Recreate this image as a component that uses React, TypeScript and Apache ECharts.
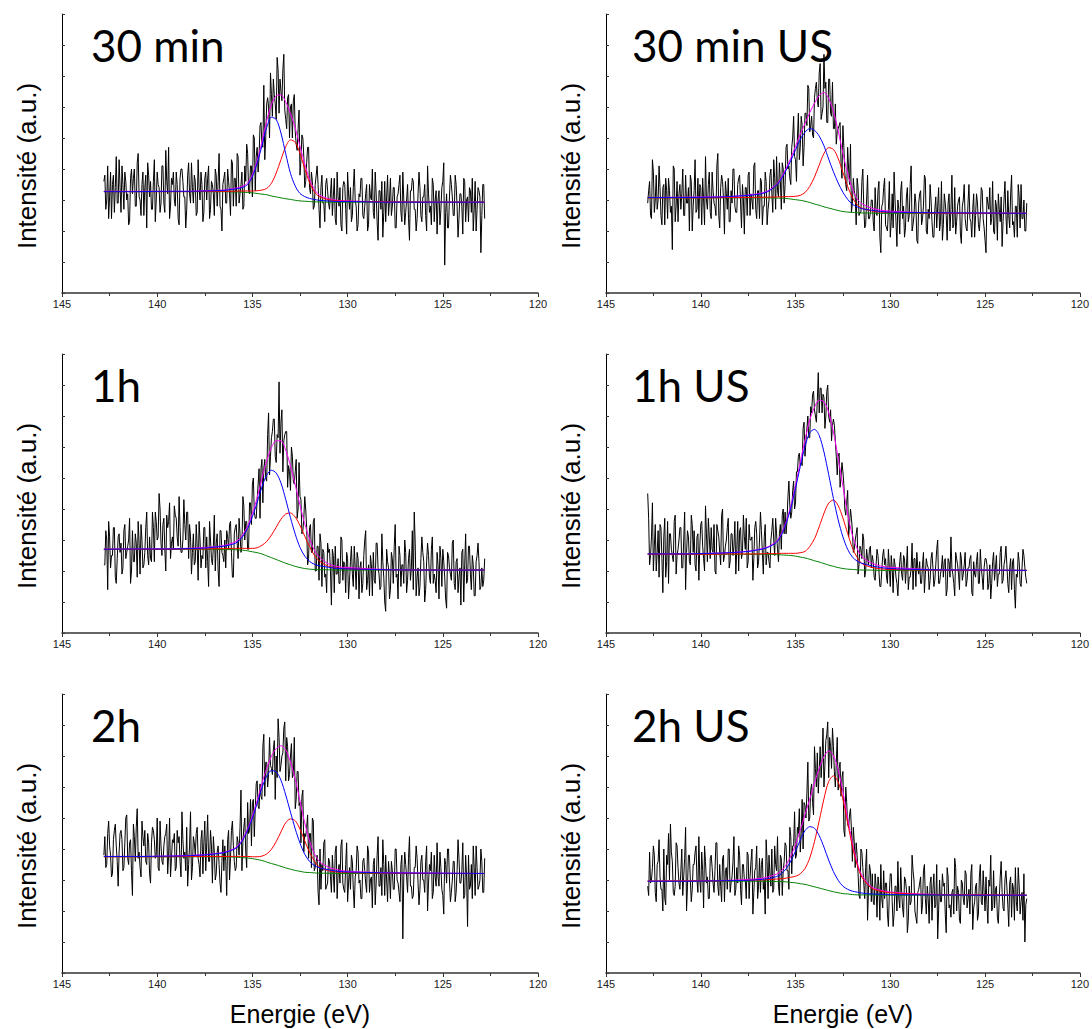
import React, { useEffect, useRef } from "react";
import * as echarts from "echarts";

// ---------- DATA ----------
const PANEL_TITLES = ["30 min", "30 min US", "1h", "1h US", "2h", "2h US"];
const Y_LABEL = "Intensité (a.u.)";
const X_LABEL = "Energie (eV)";
const X_MIN = 120;
const X_MAX = 145;
const X_INTERVAL = 5;
const Y_MIN = 0;
const Y_MAX = 9;

// raw spectra: 142.8 eV down to 122.8 eV every 0.05 eV,
// stored as the points on the 0.1 grid (RAW_*) and the points half-way between them (RAW_*_ODD)
const ENERGY_START = 142.8;
const ENERGY_STEP = 0.1;
const ODD_OFFSET = 0.05;

// energies at which the fitted curves are tabulated
const FIT_ENERGY = [142.8, 141, 139.5, 138.5, 137.5, 137, 136.5, 136, 135.75, 135.5, 135.25, 135, 134.75, 134.5, 134.25, 134, 133.75, 133.5, 133.25, 133, 132.75, 132.5, 132.25, 132, 131.75, 131.5, 131, 130.5, 130, 128, 125, 122.8];

// ----- 30 min -----
const RAW_30MIN = [
  3.6,2.7,4.1,3.1,2.4,3.8,3.4,2.9,4.3,2.6,3.5,3.9,3.0,2.2,3.7,3.2,4.0,2.8,4.5,3.0,3.5,2.5,3.8,4.2,3.1,2.7,3.6,2.3,3.9,3.4,2.9,4.1,2.6,3.6,4.7,2.8,3.5,3.0,3.9,2.4,3.7,4.0,3.1,2.1,3.8,3.2,4.2,2.9,3.6,2.6,3.4,3.9,2.3,3.7,3.0,4.1,2.7,3.5,2.5,3.8,3.6,2.8,2.0,3.7,
  2.9,4.0,3.2,4.3,2.8,3.7,4.5,2.9,3.5,2.7,4.1,4.8,3.3,4.1,3.1,5.0,4.4,3.9,5.4,4.8,6.7,5.0,6.3,5.0,6.4,6.9,6.1,7.6,5.8,6.5,7.2,5.9,5.3,6.4,6.0,5.0,6.4,4.8,5.3,3.8,5.1,4.4,3.6,4.7,3.4,3.9,2.7,3.5,4.1,2.7,3.4,2.9,2.3,3.7,2.9,
  3.2,2.5,3.7,2.2,3.1,3.4,2.0,3.6,2.7,3.9,2.7,2.3,3.4,3.0,2.0,3.2,3.7,2.5,2.8,3.5,2.2,3.1,4.0,2.4,3.2,1.7,3.3,3.6,2.6,2.3,3.8,3.0,2.5,3.4,2.1,3.1,3.5,2.6,3.9,2.2,3.0,2.4,3.3,3.7,2.7,2.0,3.2,3.4,2.3,3.1,2.5,4.1,2.6,2.2,3.5,3.0,1.9,3.3,2.7,3.6,0.9,3.2,2.1,3.8,3.1,2.5,3.5,1.8,3.2,2.8,3.7,2.3,3.1,3.4,2.6,2.0,3.6,2.7,3.3,1.3,3.5,2.4
];
const RAW_30MIN_ODD = [
  3.8,3.0,2.4,3.9,3.5,2.6,4.4,2.9,3.4,4.1,2.7,3.6,3.2,2.3,4.0,3.7,2.8,4.2,3.1,2.5,3.9,3.4,2.1,3.8,3.6,2.7,4.3,3.0,3.5,2.6,4.1,2.9,4.6,3.2,2.4,3.7,3.9,2.8,3.5,2.2,4.0,3.6,3.1,2.7,4.2,2.9,3.4,3.8,2.5,4.3,3.0,3.5,2.6,3.9,3.7,2.4,3.6,3.2,4.0,2.8,4.5,2.7,3.5,
  3.9,2.9,3.6,2.5,4.2,3.7,2.8,4.4,3.2,3.9,2.8,3.6,4.5,3.2,4.1,5.1,3.3,4.7,4.4,5.5,4.7,4.3,6.1,6.0,7.1,5.7,6.4,5.6,7.2,6.9,6.2,7.7,5.6,6.3,5.0,6.1,6.2,5.2,4.6,5.9,4.3,5.0,3.4,4.2,4.7,3.2,3.6,2.8,3.8,3.5,2.1,3.8,2.9,3.5,3.3,
  2.7,3.7,3.1,2.4,3.9,2.8,2.2,3.4,3.5,1.9,3.2,3.4,2.5,4.0,2.8,2.2,3.1,3.7,2.4,3.2,2.0,3.5,3.0,2.6,3.9,2.3,3.3,2.7,1.8,3.6,3.1,2.5,3.7,2.8,3.4,2.1,3.2,3.8,2.3,3.0,2.6,3.5,1.7,3.3,3.6,2.7,2.4,3.9,2.5,3.1,3.5,2.0,3.2,2.8,3.7,2.3,3.3,3.0,2.2,3.4,4.2,2.6,2.1,3.1,3.5,2.5,3.8,2.8,2.4,3.2,1.9,3.6,3.0,2.3,3.3,3.7,2.7,2.0,3.4,3.1,2.5,3.5
];
const BG_30MIN = [3.27,3.27,3.27,3.27,3.27,3.27,3.27,3.26,3.26,3.25,3.24,3.23,3.21,3.19,3.17,3.13,3.10,3.07,3.04,3.02,2.99,2.97,2.96,2.95,2.94,2.94,2.93,2.93,2.93,2.93,2.93,2.93];
const BLUE_30MIN = [3.27,3.27,3.28,3.28,3.29,3.30,3.31,3.35,3.37,3.41,3.50,3.76,4.19,4.75,5.34,5.67,5.60,5.16,4.49,3.86,3.45,3.21,3.11,3.05,3.02,2.99,2.97,2.95,2.95,2.93,2.93,2.93];
const RED_30MIN = [3.27,3.27,3.27,3.27,3.28,3.28,3.28,3.28,3.29,3.29,3.29,3.29,3.30,3.32,3.37,3.54,3.87,4.30,4.72,4.94,4.86,4.50,4.01,3.56,3.27,3.11,3.01,2.97,2.96,2.94,2.93,2.93];
const ENV_30MIN = [3.28,3.28,3.28,3.28,3.30,3.31,3.32,3.37,3.40,3.45,3.55,3.82,4.27,4.88,5.55,6.08,6.36,6.39,6.16,5.79,5.32,4.73,4.16,3.67,3.35,3.17,3.04,2.99,2.97,2.94,2.93,2.93];

// ----- 30 min US -----
const RAW_30MIN_US = [
  2.9,3.6,2.4,3.9,3.0,2.7,4.1,2.5,3.4,2.2,3.3,3.7,2.6,1.4,4.0,2.8,2.3,3.5,3.2,2.5,3.8,2.9,2.0,3.6,2.8,4.3,2.7,2.4,3.4,3.7,2.2,3.0,3.5,2.6,3.9,2.9,2.5,4.5,2.1,3.8,3.0,3.6,2.7,2.3,3.3,4.0,2.8,2.6,3.7,2.9,3.5,1.9,3.4,3.8,2.5,3.0,4.1,2.7,3.3,2.4,3.6,2.8,3.9,2.2,
  3.0,4.0,2.6,3.7,4.4,3.1,3.6,4.2,2.9,4.7,4.0,3.7,4.7,5.7,4.3,5.0,4.3,5.7,4.1,5.8,5.4,6.6,5.4,5.1,6.3,6.8,6.0,7.4,5.8,7.7,6.8,5.5,6.9,5.7,5.3,6.1,5.2,5.4,4.2,5.4,3.9,3.3,4.0,4.8,2.9,3.3,2.2,3.4,2.6,3.6,2.8,2.2,3.8,2.4,3.0,
  2.3,3.4,2.5,3.6,1.3,2.9,3.7,2.1,2.7,1.8,3.2,3.9,2.3,3.0,1.9,3.6,2.8,2.1,3.4,2.5,4.1,2.2,3.2,1.7,2.9,3.3,2.4,3.8,2.0,2.7,3.5,2.3,1.8,3.1,2.8,2.0,3.6,2.2,2.9,1.7,3.2,2.7,2.1,3.4,2.3,3.0,1.9,2.8,3.5,2.1,2.9,2.4,1.8,3.2,2.5,2.9,2.0,3.4,2.4,1.7,3.1,2.7,2.2,3.6,1.9,2.8,3.2,2.3,1.5,3.0,2.5,3.3,2.1,3.8,2.3,2.8,1.8,3.1,3.5,2.4,2.0,2.9
];
const RAW_30MIN_US_ODD = [
  3.3,2.5,4.3,2.6,3.8,3.0,3.4,2.2,3.5,3.7,2.4,3.3,2.8,4.1,2.3,3.6,3.2,2.7,4.0,2.5,2.9,3.4,3.8,2.0,3.3,2.6,3.7,3.5,2.2,3.0,4.4,2.7,3.9,2.4,3.3,2.8,4.1,2.5,3.4,3.6,1.9,3.2,3.7,2.3,2.9,4.0,2.6,3.5,3.8,2.1,3.0,3.4,2.5,3.9,3.2,2.7,4.2,2.4,3.3,3.7,2.2,2.8,3.6,
  2.7,3.8,3.2,4.3,2.7,3.3,4.2,2.7,4.0,3.5,4.8,4.1,3.5,5.0,4.4,3.6,5.8,4.7,5.4,4.7,5.8,6.7,5.2,5.7,5.0,6.6,6.2,7.1,5.6,6.0,6.6,5.5,6.9,5.8,6.8,5.3,4.8,5.3,5.5,3.7,4.7,3.5,4.7,3.5,2.6,3.7,3.1,3.7,2.5,2.6,4.0,2.1,3.0,2.4,2.6,
  3.0,2.0,2.6,3.3,1.8,2.8,3.4,2.2,2.0,3.6,2.3,2.1,3.0,1.5,2.7,3.3,2.4,1.8,3.1,2.3,3.5,2.0,2.5,2.9,1.6,3.2,2.2,2.8,3.7,1.9,2.4,3.0,1.8,2.7,2.1,3.4,2.3,1.7,3.2,2.5,2.9,2.0,3.8,2.2,1.9,2.8,3.1,1.6,3.0,2.4,2.0,3.5,2.3,2.7,1.8,3.2,2.2,2.5,3.3,2.1,1.3,2.9,3.4,2.4,2.0,3.0,1.7,2.7,3.1,2.3,3.6,1.9,2.5,3.2,2.2,1.8,2.8,3.5,2.1,2.4,3.0,2.0
];
const BG_30MIN_US = [3.07,3.07,3.07,3.07,3.07,3.07,3.07,3.06,3.06,3.05,3.03,3.01,2.99,2.96,2.92,2.87,2.83,2.78,2.74,2.70,2.66,2.63,2.61,2.60,2.59,2.58,2.58,2.57,2.57,2.57,2.57,2.57];
const BLUE_30MIN_US = [3.08,3.08,3.09,3.11,3.15,3.18,3.26,3.48,3.68,3.96,4.27,4.62,4.95,5.19,5.30,5.25,5.06,4.75,4.32,3.91,3.55,3.25,3.02,2.86,2.78,2.72,2.67,2.63,2.61,2.59,2.58,2.57];
const RED_30MIN_US = [3.07,3.07,3.07,3.08,3.08,3.09,3.09,3.10,3.10,3.11,3.11,3.12,3.15,3.24,3.44,3.74,4.13,4.50,4.69,4.63,4.34,3.89,3.44,3.08,2.85,2.74,2.65,2.61,2.60,2.58,2.57,2.57];
const ENV_30MIN_US = [3.08,3.09,3.10,3.11,3.16,3.20,3.28,3.51,3.72,4.02,4.35,4.73,5.12,5.47,5.82,6.12,6.37,6.47,6.27,5.86,5.23,4.51,3.85,3.35,3.04,2.88,2.74,2.67,2.64,2.59,2.58,2.57];

// ----- 1h -----
const RAW_1H = [
  2.2,3.3,1.4,3.1,2.5,3.4,1.8,2.4,3.2,2.9,2.1,3.5,2.6,3.0,1.6,3.3,2.3,2.9,3.6,1.9,3.0,2.2,3.4,2.5,3.1,2.3,3.4,3.9,3.0,4.5,2.9,3.5,2.7,3.8,3.6,2.4,3.1,4.1,3.7,2.8,3.4,2.6,4.3,3.0,3.9,3.5,1.9,3.2,2.3,2.8,3.6,2.1,2.4,3.4,3.1,1.5,3.0,2.2,3.8,2.9,2.0,3.3,2.6,2.3,
  2.1,3.1,3.5,2.6,1.8,3.4,2.9,3.7,2.6,4.4,3.0,3.6,2.7,4.2,4.8,3.9,3.7,4.8,3.7,5.6,5.3,5.0,6.4,5.1,6.3,6.9,5.7,6.4,8.1,6.8,5.2,6.4,6.5,5.4,4.6,5.7,4.8,5.6,4.0,4.4,3.2,3.7,4.0,2.2,3.4,2.6,3.6,2.0,2.8,1.7,2.9,2.7,1.8,1.3,2.6,
  2.0,2.7,1.3,1.9,2.4,1.6,3.0,2.3,1.3,2.4,1.7,2.8,1.5,2.1,2.6,1.1,2.3,1.6,3.0,1.4,2.2,2.5,1.2,1.7,2.9,2.1,1.4,3.2,1.8,0.7,2.3,1.1,2.6,1.6,3.5,1.9,2.8,1.5,2.2,3.0,1.3,2.4,1.7,3.3,3.9,1.2,2.1,1.5,3.1,2.3,1.4,2.9,1.8,2.7,1.6,1.7,2.6,1.1,2.4,2.7,1.8,0.8,2.5,1.9,2.9,1.6,2.3,1.3,2.1,2.6,1.0,3.2,1.7,2.8,1.4,2.2,1.2,2.5,2.3,1.5,1.5,2.4
];
const RAW_1H_ODD = [
  2.2,3.0,3.6,2.1,2.5,3.4,1.6,3.1,2.6,1.9,3.3,2.4,2.8,3.7,2.0,2.3,3.2,1.8,2.9,3.5,2.1,2.6,3.9,2.2,2.4,3.9,2.3,3.6,3.1,4.0,2.5,3.7,2.0,3.4,4.2,2.9,2.7,3.8,3.1,4.4,2.6,3.0,3.5,3.9,2.4,3.1,2.6,2.2,3.5,1.7,3.0,2.5,3.4,2.1,2.3,3.6,2.4,2.8,2.0,3.2,1.5,3.3,2.5,
  3.0,3.3,2.7,3.6,1.8,3.2,3.5,2.4,3.2,2.8,4.1,3.6,2.7,4.2,3.5,5.0,3.7,4.3,5.3,5.3,4.2,5.6,4.9,7.1,5.7,6.5,6.9,5.5,6.3,5.8,7.2,6.2,6.5,4.7,5.2,6.0,4.9,5.2,3.7,5.5,4.3,3.3,4.4,3.4,2.4,3.5,2.6,3.7,2.0,2.8,3.2,1.5,2.6,1.9,2.9,
  2.7,0.9,2.5,2.8,1.9,1.6,3.1,1.7,2.2,2.6,1.1,2.3,1.9,2.8,1.4,2.4,2.1,1.3,2.5,3.3,1.7,1.2,2.2,2.6,1.6,2.9,1.9,1.5,2.3,1.0,2.7,2.1,1.4,2.4,2.8,1.8,1.1,2.5,2.2,1.6,2.6,1.7,2.7,2.1,1.4,2.9,1.8,1.2,2.4,2.6,1.0,2.3,2.5,1.6,3.1,1.9,1.3,2.2,2.8,1.5,2.3,1.1,2.6,2.1,1.7,3.0,1.4,2.4,1.8,0.9,2.7,2.2,1.6,2.8,1.9,2.5,1.2,2.3,2.9,1.4,2.1,1.7
];
const BG_1H = [2.70,2.70,2.70,2.70,2.70,2.70,2.69,2.69,2.68,2.67,2.65,2.62,2.59,2.55,2.49,2.43,2.37,2.31,2.25,2.20,2.15,2.11,2.08,2.06,2.05,2.04,2.04,2.03,2.03,2.03,2.03,2.03];
const BLUE_1H = [2.70,2.71,2.71,2.72,2.74,2.77,2.80,2.87,2.95,3.12,3.37,3.75,4.21,4.71,5.09,5.25,5.16,4.84,4.31,3.72,3.19,2.76,2.48,2.31,2.22,2.17,2.12,2.08,2.07,2.04,2.03,2.03];
const RED_1H = [2.70,2.70,2.70,2.71,2.71,2.72,2.72,2.73,2.73,2.73,2.73,2.73,2.75,2.83,2.95,3.16,3.41,3.67,3.84,3.87,3.74,3.47,3.12,2.79,2.51,2.33,2.15,2.09,2.07,2.04,2.03,2.03];
const ENV_1H = [2.71,2.71,2.72,2.73,2.76,2.78,2.82,2.91,3.00,3.18,3.45,3.86,4.37,4.99,5.55,5.98,6.20,6.20,5.90,5.39,4.78,4.12,3.52,3.04,2.68,2.46,2.23,2.14,2.11,2.05,2.03,2.03];

// ----- 1h US -----
const RAW_1H_US = [
  4.5,2.2,3.1,2.0,3.5,2.6,1.8,3.4,1.3,3.7,2.3,1.6,3.2,2.5,3.6,1.9,2.7,3.4,2.1,3.0,1.4,3.3,2.3,3.8,2.6,2.2,3.1,1.7,3.5,2.8,2.0,3.2,3.7,2.4,2.7,3.5,1.9,3.3,2.6,3.8,2.3,2.8,3.4,2.1,3.2,2.5,3.6,2.7,2.0,3.4,2.6,3.1,3.7,2.3,3.0,3.1,2.4,3.6,2.1,3.0,3.3,1.9,3.5,2.6,
  2.3,3.0,3.7,2.5,3.2,2.3,3.5,3.8,3.2,3.2,4.4,4.1,3.9,4.9,4.2,5.2,5.8,5.5,6.6,5.7,6.6,6.3,7.3,7.7,7.2,6.8,8.4,7.9,7.1,7.6,7.0,8.0,6.8,6.2,6.9,6.2,5.1,5.8,5.0,5.2,4.0,4.2,3.1,4.0,3.3,2.7,3.2,1.9,2.8,2.4,3.0,2.0,2.4,2.7,2.1,
  2.3,1.7,2.7,2.0,1.5,2.5,2.2,1.8,2.7,1.5,2.1,2.4,1.8,1.2,2.3,1.9,2.5,1.6,2.8,1.8,2.1,1.4,2.4,2.6,1.9,1.6,2.2,1.3,2.4,2.1,1.7,2.6,1.5,2.2,3.0,1.6,2.1,1.8,2.4,1.4,2.3,3.1,1.9,1.2,2.4,1.9,2.6,1.7,2.2,1.5,2.1,2.4,1.3,2.3,1.8,2.6,1.6,2.1,1.4,2.4,2.2,1.6,1.1,2.3,1.7,2.5,1.9,2.6,1.6,2.2,2.8,1.6,2.1,1.4,2.4,0.8,1.8,2.3,1.5,2.7,2.1,1.6
];
const RAW_1H_US_ODD = [
  3.7,2.5,4.2,2.8,2.0,3.3,3.5,2.4,3.1,1.8,3.6,3.2,2.7,2.3,3.8,2.5,3.0,3.4,2.1,3.9,2.6,3.1,2.2,3.5,3.3,2.0,3.2,2.8,3.6,2.4,4.1,2.3,3.1,3.4,2.6,2.0,3.5,3.1,2.2,4.0,2.5,3.0,3.7,2.3,3.2,2.8,1.9,3.6,3.3,2.4,3.8,2.7,2.1,3.5,3.0,1.7,3.4,3.2,2.3,3.9,2.6,3.1,2.2,
  2.6,2.1,3.3,3.0,3.7,2.7,3.2,2.7,4.0,3.9,3.6,4.9,3.7,4.6,4.0,5.2,5.7,5.4,5.4,6.8,6.2,7.0,6.3,7.1,7.8,7.0,7.5,7.1,7.9,7.7,6.6,7.8,7.0,7.2,6.7,6.7,5.7,5.7,4.7,5.5,4.8,3.8,4.6,3.5,3.7,2.6,3.0,3.4,2.2,2.7,3.2,1.8,2.7,2.2,2.8,
  2.5,1.8,2.2,2.5,1.5,2.0,2.7,2.4,1.6,2.1,2.5,1.3,2.2,1.6,1.9,2.6,1.7,2.4,2.1,1.4,1.8,2.9,2.4,1.5,2.1,2.3,1.6,2.6,1.9,2.2,1.4,2.4,2.1,1.7,2.7,1.6,1.9,2.5,2.3,1.2,2.4,1.8,2.1,1.6,2.6,2.2,1.4,2.4,1.9,2.6,1.7,2.1,2.5,1.2,1.9,2.3,1.6,2.7,1.8,2.1,2.4,1.4,2.2,1.6,2.6,2.1,1.5,1.9,2.8,1.7,2.4,2.2,1.3,2.4,2.3,1.4,1.9,2.6,1.6,2.1,2.5,1.8
];
const BG_1H_US = [2.54,2.54,2.54,2.54,2.54,2.54,2.54,2.53,2.52,2.51,2.50,2.48,2.45,2.42,2.38,2.33,2.29,2.24,2.19,2.15,2.11,2.08,2.06,2.05,2.04,2.03,2.03,2.02,2.02,2.02,2.02,2.02];
const BLUE_1H_US = [2.55,2.55,2.57,2.59,2.63,2.68,2.75,2.93,3.16,3.53,4.03,4.67,5.37,6.02,6.46,6.57,6.37,5.84,5.11,4.34,3.65,3.10,2.70,2.45,2.32,2.25,2.17,2.11,2.08,2.04,2.03,2.02];
const RED_1H_US = [2.54,2.54,2.54,2.55,2.55,2.55,2.56,2.56,2.57,2.57,2.57,2.57,2.59,2.63,2.79,3.04,3.43,3.86,4.19,4.29,4.11,3.71,3.21,2.75,2.44,2.24,2.12,2.07,2.05,2.03,2.02,2.02];
const ENV_1H_US = [2.55,2.56,2.57,2.59,2.64,2.69,2.77,2.96,3.20,3.59,4.10,4.76,5.51,6.23,6.87,7.28,7.51,7.46,7.11,6.48,5.64,4.73,3.84,3.15,2.73,2.46,2.26,2.16,2.12,2.05,2.03,2.02];

// ----- 2h -----
const RAW_2H = [
  3.8,3.4,4.5,4.1,3.1,4.3,4.8,3.6,3.9,4.6,3.3,4.2,5.1,3.5,4.3,2.5,4.4,4.7,3.7,3.4,4.9,4.1,3.6,4.5,3.2,4.2,4.6,3.7,5.0,3.3,4.1,3.5,4.4,4.8,3.8,3.1,4.3,4.5,3.4,4.2,3.6,5.2,3.7,3.3,2.8,4.1,3.0,4.4,3.8,4.7,3.5,4.3,3.2,4.9,4.2,3.6,4.6,2.9,3.9,3.2,4.1,2.9,3.6,3.3,
  3.6,4.3,3.0,4.6,4.1,3.3,4.4,3.8,5.9,4.2,5.0,3.4,4.5,5.6,5.5,4.4,6.1,5.4,6.1,5.6,7.7,6.8,6.0,7.6,6.6,7.2,5.6,6.3,7.6,6.7,7.1,8.1,7.6,6.2,7.0,6.3,7.6,5.6,6.5,5.5,5.7,3.9,4.4,5.1,4.5,3.4,4.9,3.4,3.8,2.2,2.7,3.3,4.3,2.8,3.7,
  3.1,3.8,2.6,4.1,3.2,2.9,4.3,2.7,3.5,2.3,3.4,3.8,2.7,3.1,4.1,2.9,2.4,3.6,3.3,2.6,3.9,3.0,2.1,3.7,2.9,4.4,2.8,2.5,3.5,3.8,2.3,3.1,3.6,2.7,4.0,3.0,2.6,3.5,1.1,3.9,3.1,3.7,2.8,2.4,3.4,4.1,2.9,2.7,3.8,3.0,3.6,2.0,3.5,3.9,2.6,3.1,4.2,2.8,3.4,2.5,3.7,2.9,4.0,2.3,3.0,3.6,2.6,4.3,2.9,3.3,2.4,3.8,1.5,2.7,3.5,4.1,2.5,3.4,2.8,4.0,2.6,3.7
];
const RAW_2H_ODD = [
  4.4,3.5,4.9,3.8,3.2,4.6,4.1,2.8,4.5,4.3,3.4,5.0,3.7,4.2,3.3,4.8,3.6,5.3,3.9,3.1,4.4,4.6,3.5,4.2,2.9,4.7,4.3,3.8,3.4,4.9,3.6,4.1,4.5,3.2,5.0,3.7,4.2,3.3,4.6,4.4,3.1,4.3,3.9,4.7,3.5,5.2,3.4,4.2,4.5,3.7,3.1,4.6,4.2,3.3,5.1,3.6,4.1,4.4,3.0,3.9,3.5,2.6,4.3,
  4.1,2.5,4.6,3.7,4.9,3.6,3.4,4.2,4.7,3.3,4.7,3.9,5.5,4.6,4.1,5.6,5.3,6.2,5.3,5.7,7.3,5.7,6.8,6.4,6.7,6.4,7.5,7.0,8.2,6.5,7.0,7.9,6.2,7.3,6.4,7.4,6.4,5.3,6.5,5.4,4.2,5.9,4.5,4.7,3.7,4.5,5.0,3.3,3.6,2.6,4.0,3.5,4.2,2.7,2.9,
  3.6,2.6,3.2,3.9,2.4,3.5,4.1,2.9,2.6,4.2,2.9,2.7,3.6,2.1,3.3,3.9,3.0,2.4,3.7,2.9,4.1,2.6,3.1,3.5,2.2,3.8,2.8,3.4,4.3,2.5,3.0,3.6,2.4,3.3,2.7,4.0,2.9,2.3,3.8,3.1,3.5,2.6,4.4,2.8,2.5,3.4,3.7,2.2,3.6,3.0,2.6,4.1,2.9,3.3,2.4,3.8,2.8,3.1,3.9,2.7,1.9,3.5,4.0,3.0,2.6,3.6,2.3,3.3,3.7,2.9,4.2,2.5,3.1,3.8,2.8,2.4,3.4,4.1,2.7,3.0,3.6,2.6
];
const BG_2H = [3.75,3.75,3.75,3.75,3.75,3.75,3.75,3.74,3.73,3.72,3.71,3.69,3.66,3.63,3.58,3.53,3.49,3.44,3.39,3.35,3.31,3.28,3.25,3.24,3.23,3.22,3.22,3.21,3.21,3.21,3.21,3.21];
const BLUE_2H = [3.76,3.76,3.77,3.78,3.81,3.84,3.88,3.98,4.08,4.30,4.60,5.00,5.47,5.97,6.35,6.53,6.49,6.22,5.74,5.19,4.65,4.19,3.83,3.60,3.47,3.40,3.33,3.28,3.26,3.23,3.22,3.21];
const RED_2H = [3.75,3.75,3.75,3.76,3.76,3.76,3.76,3.76,3.76,3.76,3.76,3.75,3.75,3.77,3.84,3.99,4.24,4.55,4.85,4.97,4.91,4.64,4.26,3.90,3.62,3.43,3.30,3.26,3.24,3.22,3.21,3.21];
const ENV_2H = [3.76,3.76,3.77,3.79,3.82,3.85,3.89,4.00,4.11,4.34,4.65,5.07,5.56,6.11,6.61,6.99,7.24,7.33,7.20,6.81,6.25,5.55,4.84,4.26,3.86,3.61,3.41,3.33,3.28,3.24,3.22,3.21];

// ----- 2h US -----
const RAW_2H_US = [
  2.8,3.9,3.0,4.1,2.6,3.5,4.3,2.7,2.0,2.4,3.8,4.5,4.8,3.6,2.5,4.2,3.4,2.7,4.0,3.1,4.7,2.8,3.8,2.3,3.5,3.9,3.0,4.4,2.6,3.3,4.1,2.9,2.4,3.7,3.4,2.6,4.2,2.8,3.5,2.3,3.8,3.3,2.7,4.0,2.9,3.6,2.5,3.4,4.1,2.7,3.5,3.0,2.4,3.8,3.1,4.0,2.6,3.4,2.4,3.7,3.5,2.7,1.9,3.6,
  3.8,2.8,2.6,4.1,3.3,2.8,3.8,2.5,3.6,4.1,3.3,4.7,3.2,4.1,3.7,4.7,5.3,4.5,4.0,5.4,5.8,4.9,5.9,5.5,7.3,6.0,5.8,7.3,6.9,6.0,7.5,8.1,7.6,6.6,7.3,6.0,7.6,6.6,5.7,6.5,4.4,5.5,4.7,5.3,3.6,4.2,4.2,3.2,2.4,3.9,2.9,3.4,1.7,3.5,2.3,
  2.3,3.2,1.8,2.8,3.5,2.1,2.4,2.9,1.5,3.2,2.3,1.9,2.8,3.6,2.1,2.6,1.8,3.0,1.3,2.8,2.3,3.3,2.0,1.6,2.7,3.1,2.2,3.5,1.9,2.4,2.9,1.7,3.2,2.2,1.1,3.0,2.3,2.8,1.9,3.4,2.1,1.8,2.7,3.7,2.0,2.6,1.6,2.9,2.2,3.2,2.4,1.9,3.5,2.1,2.8,1.7,3.1,2.3,3.3,2.0,2.2,3.0,3.8,2.1,2.1,2.8,1.6,3.1,2.6,2.0,3.3,2.2,2.9,1.8,2.7,3.4,2.0,2.8,2.3,1.7,1.0,2.4
];
const RAW_2H_US_ODD = [
  2.5,2.9,3.4,3.8,2.3,3.6,3.1,2.7,4.0,2.2,3.5,3.0,3.9,2.6,2.8,4.1,2.9,3.3,2.5,3.7,2.0,3.8,3.0,2.7,3.5,4.1,2.6,3.0,3.9,2.1,3.6,3.1,2.4,3.8,2.9,3.3,4.2,2.5,2.8,3.7,2.3,3.4,4.0,2.6,3.1,4.4,2.7,2.9,3.8,2.2,3.5,3.0,3.9,2.4,3.6,1.9,3.3,4.1,2.8,2.6,3.7,3.0,4.3,
  2.4,3.2,4.0,2.7,3.5,4.4,2.5,3.7,3.3,4.2,3.3,2.7,4.4,4.1,5.2,3.8,4.5,3.9,5.6,5.5,5.0,6.8,5.0,6.1,5.1,6.6,7.1,6.5,6.3,7.9,6.7,7.7,6.3,7.3,7.9,6.5,6.8,5.9,6.8,6.3,4.6,6.0,4.8,5.1,4.6,4.7,3.4,3.8,2.5,4.0,3.4,2.4,4.0,2.7,3.3,
  3.2,2.2,2.8,3.1,1.7,2.4,3.3,2.9,1.9,2.6,3.2,1.5,2.8,2.0,2.4,3.4,2.1,3.1,2.7,1.7,2.2,3.8,3.0,1.8,2.6,2.9,1.9,3.3,2.4,2.8,1.6,3.1,2.7,2.1,3.5,2.0,2.3,3.2,2.9,1.3,3.1,2.2,2.6,1.9,3.4,2.8,1.7,3.0,2.4,3.3,2.1,2.7,3.2,1.4,2.3,2.9,1.9,3.5,2.2,2.6,3.1,1.6,2.8,2.0,3.3,2.7,1.8,2.4,3.6,2.1,3.0,2.8,1.5,3.1,2.9,1.7,2.3,3.4,1.9,2.6,3.2,2.2
];
const BG_2H_US = [2.96,2.96,2.96,2.96,2.96,2.96,2.96,2.95,2.95,2.94,2.92,2.91,2.88,2.86,2.82,2.78,2.74,2.70,2.66,2.62,2.59,2.56,2.55,2.53,2.52,2.52,2.52,2.51,2.51,2.51,2.51,2.51];
const BLUE_2H_US = [2.96,2.96,2.97,2.98,2.99,3.01,3.04,3.11,3.20,3.36,3.61,3.93,4.29,4.59,4.72,4.67,4.43,4.06,3.64,3.27,2.99,2.80,2.70,2.64,2.61,2.58,2.55,2.54,2.53,2.52,2.51,2.51];
const RED_2H_US = [2.96,2.97,2.97,2.98,2.99,3.00,3.01,3.03,3.04,3.06,3.09,3.12,3.20,3.37,3.71,4.24,4.91,5.62,6.18,6.36,6.16,5.61,4.84,4.09,3.49,3.09,2.74,2.64,2.59,2.53,2.52,2.51];
const ENV_2H_US = [2.97,2.97,2.98,2.99,3.02,3.04,3.09,3.19,3.29,3.49,3.77,4.15,4.61,5.11,5.61,6.13,6.60,6.98,7.16,7.01,6.56,5.85,4.99,4.20,3.57,3.15,2.78,2.67,2.61,2.54,2.52,2.51];

const PANELS = [
  { title: PANEL_TITLES[0], raw: RAW_30MIN, rawOdd: RAW_30MIN_ODD, bg: BG_30MIN, blue: BLUE_30MIN, red: RED_30MIN, env: ENV_30MIN },
  { title: PANEL_TITLES[1], raw: RAW_30MIN_US, rawOdd: RAW_30MIN_US_ODD, bg: BG_30MIN_US, blue: BLUE_30MIN_US, red: RED_30MIN_US, env: ENV_30MIN_US },
  { title: PANEL_TITLES[2], raw: RAW_1H, rawOdd: RAW_1H_ODD, bg: BG_1H, blue: BLUE_1H, red: RED_1H, env: ENV_1H },
  { title: PANEL_TITLES[3], raw: RAW_1H_US, rawOdd: RAW_1H_US_ODD, bg: BG_1H_US, blue: BLUE_1H_US, red: RED_1H_US, env: ENV_1H_US },
  { title: PANEL_TITLES[4], raw: RAW_2H, rawOdd: RAW_2H_ODD, bg: BG_2H, blue: BLUE_2H, red: RED_2H, env: ENV_2H },
  { title: PANEL_TITLES[5], raw: RAW_2H_US, rawOdd: RAW_2H_US_ODD, bg: BG_2H_US, blue: BLUE_2H_US, red: RED_2H_US, env: ENV_2H_US },
];

// ---------- LAYOUT ----------
const COL_LEFT = [62, 606];
const COL_WIDTH = [476, 475];
const ROW_TOP = [14, 354, 694];
const PLOT_HEIGHT = 279;
const TITLE_X = [91, 632];
const TITLE_DY = 31;
const YLABEL_DX = 35;
const YLABEL_DY = 152;

const SANS = 'Arial, "Liberation Sans", Helvetica, sans-serif';

function rawPairs(even: number[], odd: number[]) {
  const out: number[][] = [];
  even.forEach((v, i) => {
    out.push([Number((ENERGY_START - i * ENERGY_STEP).toFixed(2)), v]);
    if (i < odd.length) {
      out.push([Number((ENERGY_START - ODD_OFFSET - i * ENERGY_STEP).toFixed(2)), odd[i]]);
    }
  });
  return out;
}
function fitPairs(values: number[]) {
  return values.map((v, i) => [FIT_ENERGY[i], v]);
}

export default function App() {
  const ref = useRef<HTMLDivElement>(null);

  useEffect(() => {
    if (!ref.current) return;
    const chart = echarts.init(ref.current, undefined, { renderer: "svg" });

    const grids: any[] = [];
    const xAxes: any[] = [];
    const yAxes: any[] = [];
    const series: any[] = [];
    const graphics: any[] = [];

    PANELS.forEach((p, i) => {
      const col = i % 2;
      const row = Math.floor(i / 2);
      grids.push({
        left: COL_LEFT[col],
        top: ROW_TOP[row],
        width: COL_WIDTH[col],
        height: PLOT_HEIGHT,
        containLabel: false,
      });
      xAxes.push({
        gridIndex: i,
        type: "value",
        min: X_MIN,
        max: X_MAX,
        interval: X_INTERVAL,
        inverse: true,
        axisLine: { show: true, onZero: false, lineStyle: { color: "#333", width: 1.5 } },
        axisTick: { show: true, inside: false, length: 4, lineStyle: { color: "#333", width: 1 } },
        minorTick: { show: true, splitNumber: 2, length: 3, lineStyle: { color: "#333", width: 1 } },
        splitLine: { show: false },
        minorSplitLine: { show: false },
        axisLabel: { show: true, fontSize: 11, color: "#222", fontFamily: SANS, margin: 5 },
        name: row === 2 ? X_LABEL : "",
        nameLocation: "middle",
        nameGap: 28,
        nameTextStyle: { fontSize: 25, color: "#000", fontFamily: SANS },
      });
      yAxes.push({
        gridIndex: i,
        type: "value",
        min: Y_MIN,
        max: Y_MAX,
        interval: 1,
        axisLine: { show: true, onZero: false, lineStyle: { color: "#000", width: 1 } },
        axisTick: { show: true, inside: true, length: 3, lineStyle: { color: "#333", width: 1 } },
        axisLabel: { show: false },
        splitLine: { show: false },
      });

      const common = {
        type: "line",
        xAxisIndex: i,
        yAxisIndex: i,
        symbol: "none",
        showSymbol: false,
        silent: true,
        clip: true,
      };
      series.push({ ...common, name: p.title + " data", data: rawPairs(p.raw, p.rawOdd), lineStyle: { color: "#000", width: 1 }, itemStyle: { color: "#000" }, z: 2 });
      series.push({ ...common, name: p.title + " envelope", data: fitPairs(p.env), smooth: 0.3, lineStyle: { color: "#ff00ff", width: 1 }, itemStyle: { color: "#ff00ff" }, z: 3 });
      series.push({ ...common, name: p.title + " background", data: fitPairs(p.bg), smooth: 0.3, lineStyle: { color: "#008000", width: 1 }, itemStyle: { color: "#008000" }, z: 4 });
      series.push({ ...common, name: p.title + " red", data: fitPairs(p.red), smooth: 0.3, lineStyle: { color: "#ff0000", width: 1 }, itemStyle: { color: "#ff0000" }, z: 5 });
      series.push({ ...common, name: p.title + " blue", data: fitPairs(p.blue), smooth: 0.3, lineStyle: { color: "#0000ff", width: 1 }, itemStyle: { color: "#0000ff" }, z: 6 });

      graphics.push({
        type: "text",
        x: TITLE_X[col],
        y: ROW_TOP[row] + TITLE_DY,
        z: 10,
        style: {
          text: p.title,
          font: '44px Lato, "Open Sans", sans-serif',
          fill: "#000",
          align: "left",
          verticalAlign: "middle",
        },
      });
      graphics.push({
        type: "text",
        x: COL_LEFT[col] - YLABEL_DX,
        y: ROW_TOP[row] + YLABEL_DY,
        rotation: Math.PI / 2,
        z: 10,
        style: {
          text: Y_LABEL,
          font: '26px Arial, "Liberation Sans", sans-serif',
          fill: "#000",
          align: "center",
          verticalAlign: "middle",
        },
      });
    });

    chart.setOption({
      animation: false,
      backgroundColor: "#fff",
      grid: grids,
      xAxis: xAxes,
      yAxis: yAxes,
      series,
      graphic: graphics,
    });

    return () => chart.dispose();
  }, []);

  return (
    <div
      ref={ref}
      style={{ position: "absolute", left: 0, top: 0, width: 1092, height: 1029, background: "#fff" }}
    />
  );
}
